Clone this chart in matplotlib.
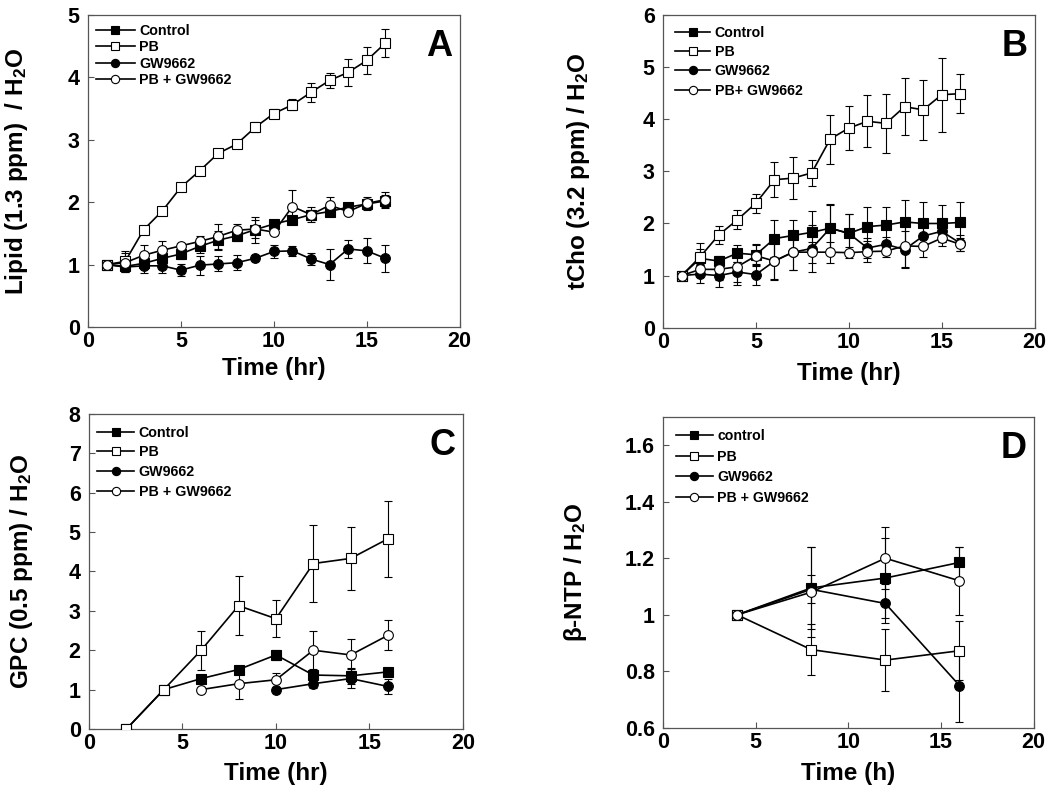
import numpy as np
import matplotlib
matplotlib.use("Agg")
import matplotlib.pyplot as plt
from matplotlib.ticker import FuncFormatter, MultipleLocator

plt.rcParams['font.family'] = ['Liberation Sans', 'DejaVu Sans']
plt.rcParams['font.weight'] = 'bold'
plt.rcParams['axes.labelweight'] = 'bold'
plt.rcParams['mathtext.fontset'] = 'custom'
plt.rcParams['mathtext.rm'] = 'Liberation Sans'
plt.rcParams['mathtext.it'] = 'Liberation Sans:italic'
plt.rcParams['mathtext.bf'] = 'Liberation Sans:bold'

# ---------------- Panel A: Lipid ----------------
time_A = [1, 2, 3, 4, 5, 6, 7, 8, 9, 10, 11, 12, 13, 14, 15, 16]
ctrl_A = [1.0, 0.97, 1.02, 1.10, 1.17, 1.29, 1.39, 1.46, 1.56, 1.65, 1.72, 1.80, 1.85, 1.92, 1.97, 2.02]
ctrl_A_err = [0, 0.05, 0.08, 0.10, 0.08, 0.10, 0.15, 0.08, 0.21, 0.05, 0.06, 0.08, 0.06, 0.05, 0.08, 0.10]
pb_A = [1.0, 1.05, 1.56, 1.86, 2.24, 2.50, 2.78, 2.93, 3.20, 3.42, 3.56, 3.76, 3.95, 4.08, 4.27, 4.55]
pb_A_err = [0, 0.17, 0.05, 0.05, 0.05, 0.05, 0.05, 0.05, 0.08, 0.07, 0.09, 0.15, 0.12, 0.22, 0.22, 0.23]
gw_A = [1.0, 0.96, 0.98, 0.98, 0.91, 0.99, 1.01, 1.03, 1.10, 1.21, 1.22, 1.09, 1.0, 1.25, 1.22, 1.10]
gw_A_err = [0, 0.05, 0.12, 0.12, 0.10, 0.15, 0.12, 0.12, 0.05, 0.10, 0.08, 0.10, 0.25, 0.15, 0.20, 0.22]
pbgw_A = [1.0, 1.03, 1.15, 1.23, 1.30, 1.37, 1.45, 1.55, 1.57, 1.52, 1.93, 1.80, 1.95, 1.85, 1.98, 2.04]
pbgw_A_err = [0, 0.15, 0.17, 0.14, 0.05, 0.08, 0.20, 0.10, 0.15, 0.05, 0.27, 0.12, 0.14, 0.04, 0.10, 0.13]

# ---------------- Panel B: tCho ----------------
time_B = [1, 2, 3, 4, 5, 6, 7, 8, 9, 10, 11, 12, 13, 14, 15, 16]
ctrl_B = [1.0, 1.33, 1.28, 1.43, 1.40, 1.71, 1.77, 1.83, 1.91, 1.81, 1.94, 1.97, 2.03, 2.0, 2.0, 2.02]
ctrl_B_err = [0, 0.30, 0.10, 0.16, 0.20, 0.35, 0.30, 0.40, 0.46, 0.38, 0.38, 0.34, 0.42, 0.42, 0.35, 0.40]
pb_B = [1.0, 1.36, 1.78, 2.07, 2.39, 2.84, 2.87, 2.97, 3.62, 3.83, 3.96, 3.92, 4.24, 4.18, 4.47, 4.49]
pb_B_err = [0, 0.15, 0.18, 0.18, 0.18, 0.33, 0.40, 0.25, 0.47, 0.43, 0.50, 0.57, 0.55, 0.57, 0.71, 0.38]
gw_B = [1.0, 1.03, 1.0, 1.07, 1.02, 1.28, 1.45, 1.52, 1.91, 1.81, 1.53, 1.60, 1.50, 1.76, 1.85, 1.62]
gw_B_err = [0, 0.18, 0.22, 0.20, 0.20, 0.35, 0.35, 0.45, 0.45, 0.38, 0.20, 0.15, 0.35, 0.20, 0.20, 0.15]
pbgw_B = [1.0, 1.12, 1.12, 1.17, 1.38, 1.28, 1.45, 1.45, 1.45, 1.44, 1.46, 1.47, 1.57, 1.56, 1.72, 1.60]
pbgw_B_err = [0, 0.10, 0.20, 0.35, 0.20, 0.37, 0.35, 0.20, 0.20, 0.10, 0.20, 0.12, 0.40, 0.20, 0.15, 0.12]

# ---------------- Panel C: GPC ----------------
time_C = [2, 4, 6, 8, 10, 12, 14, 16]
ctrl_C = [0, 1.0, 1.28, 1.51, 1.88, 1.37, 1.35, 1.45]
ctrl_C_err = [0, 0, 0.05, 0.05, 0.12, 0.15, 0.20, 0.08]
pb_C = [0, 1.0, 2.0, 3.13, 2.8, 4.2, 4.33, 4.83]
pb_C_err = [0, 0, 0.5, 0.75, 0.47, 0.97, 0.8, 0.97]
time_C_gw = [10, 12, 14, 16]
gw_C = [1.0, 1.15, 1.28, 1.08]
gw_C_err = [0, 0.12, 0.25, 0.18]
time_C_pbgw = [6, 8, 10, 12, 14, 16]
pbgw_C = [1.0, 1.15, 1.25, 2.0, 1.88, 2.38]
pbgw_C_err = [0, 0.4, 0.18, 0.5, 0.4, 0.38]

# ---------------- Panel D: beta-NTP ----------------
time_D = [4, 8, 12, 16]
ctrl_D = [1.0, 1.095, 1.13, 1.185]
ctrl_D_err = [0, 0.145, 0.14, 0.055]
pb_D = [1.0, 0.877, 0.84, 0.873]
pb_D_err = [0, 0.09, 0.11, 0.105]
gw_D = [1.0, 1.09, 1.04, 0.75]
gw_D_err = [0, 0.05, 0.07, 0.13]
pbgw_D = [1.0, 1.08, 1.20, 1.12]
pbgw_D_err = [0, 0.16, 0.11, 0.12]

styles = {
    'ctrl': dict(marker='s', mfc='black', ms=6.5),
    'pb': dict(marker='s', mfc='white', ms=6.5),
    'gw': dict(marker='o', mfc='black', ms=7),
    'pbgw': dict(marker='o', mfc='white', ms=7),
}

fig = plt.figure(figsize=(10.5, 7.86), dpi=100)

def panel(rect, ylim, ystep, series, labels, ylabel, xlabel, letter,
          ylab_x, xlab_y, leg_anchor, leg_fs, leg_spacing, hlen):
    ax = fig.add_axes(rect)
    handles = []
    for key, (x, y, e) in series:
        st = styles[key]
        h = ax.errorbar(x, y, yerr=e, color='black', lw=1.2, elinewidth=0.8,
                        capsize=3, capthick=0.8, marker=st['marker'], ms=st['ms'],
                        mfc=st['mfc'], mec='black', mew=0.8, zorder=3)
        handles.append(h)
    ax.set_xlim(0, 20)
    ax.set_ylim(*ylim)
    ax.xaxis.set_major_locator(MultipleLocator(5))
    ax.yaxis.set_major_locator(MultipleLocator(ystep))
    ax.yaxis.set_major_formatter(FuncFormatter(lambda v, p: '{:g}'.format(round(v, 3))))
    ax.tick_params(direction='in', length=4, width=0.8, labelsize=15.5,
                   top=False, right=False, colors='#555555', labelcolor='black')
    ax.tick_params(axis='y', pad=6)
    ax.tick_params(axis='x', pad=3)
    for sp in ax.spines.values():
        sp.set_color('#555555')
        sp.set_linewidth(0.9)
    ax.set_ylabel(ylabel, fontsize=17.5, fontweight='bold')
    ax.set_xlabel(xlabel, fontsize=17.5, fontweight='bold')
    ax.yaxis.set_label_coords(ylab_x, 0.5)
    ax.xaxis.set_label_coords(0.5, xlab_y)
    ax.xaxis.label.set_va('top')
    ax.text(0.98, 0.955, letter, transform=ax.transAxes, ha='right', va='top',
            fontsize=26, fontweight='bold')
    leg = ax.legend([h[0] for h in handles], labels, loc='upper left',
                    bbox_to_anchor=leg_anchor, frameon=False, fontsize=leg_fs,
                    handlelength=hlen, handletextpad=0.3, labelspacing=leg_spacing,
                    borderpad=0, borderaxespad=0, markerscale=0.85)
    for t in leg.get_texts():
        t.set_fontweight('bold')
    return ax

panel([0.0838, 0.584, 0.354, 0.397], (0, 5), 1,
      [('ctrl', (time_A, ctrl_A, ctrl_A_err)), ('pb', (time_A, pb_A, pb_A_err)),
       ('gw', (time_A, gw_A, gw_A_err)), ('pbgw', (time_A, pbgw_A, pbgw_A_err))],
      ['Control', 'PB', 'GW9662', 'PB + GW9662'],
      r'Lipid (1.3 ppm)  / H$_\mathbf{2}$O', 'Time (hr)', 'A',
      -0.155, -0.095, (0.022, 0.97), 10.3, 0.15, 2.7)

panel([0.6314, 0.583, 0.354, 0.398], (0, 6), 1,
      [('ctrl', (time_B, ctrl_B, ctrl_B_err)), ('pb', (time_B, pb_B, pb_B_err)),
       ('gw', (time_B, gw_B, gw_B_err)), ('pbgw', (time_B, pbgw_B, pbgw_B_err))],
      ['Control', 'PB', 'GW9662', 'PB+ GW9662'],
      r'tCho (3.2 ppm) / H$_\mathbf{2}$O', 'Time (hr)', 'B',
      -0.19, -0.11, (0.032, 0.965), 10.2, 0.37, 2.5)

panel([0.0848, 0.0725, 0.356, 0.401], (0, 8), 1,
      [('ctrl', (time_C, ctrl_C, ctrl_C_err)), ('pb', (time_C, pb_C, pb_C_err)),
       ('gw', (time_C_gw, gw_C, gw_C_err)), ('pbgw', (time_C_pbgw, pbgw_C, pbgw_C_err))],
      ['Control', 'PB', 'GW9662', 'PB + GW9662'],
      r'GPC (0.5 ppm) / H$_\mathbf{2}$O', 'Time (hr)', 'C',
      -0.145, -0.105, (0.022, 0.962), 10.3, 0.39, 2.6)

panel([0.6314, 0.0738, 0.353, 0.396], (0.6, 1.7), 0.2,
      [('ctrl', (time_D, ctrl_D, ctrl_D_err)), ('pb', (time_D, pb_D, pb_D_err)),
       ('gw', (time_D, gw_D, gw_D_err)), ('pbgw', (time_D, pbgw_D, pbgw_D_err))],
      ['control', 'PB', 'GW9662', 'PB + GW9662'],
      r'$\mathrm{\beta}$-NTP / H$_\mathbf{2}$O', 'Time (h)', 'D',
      -0.2, -0.11, (0.035, 0.96), 10.2, 0.46, 2.6)

fig.savefig('out.png', dpi=100)
